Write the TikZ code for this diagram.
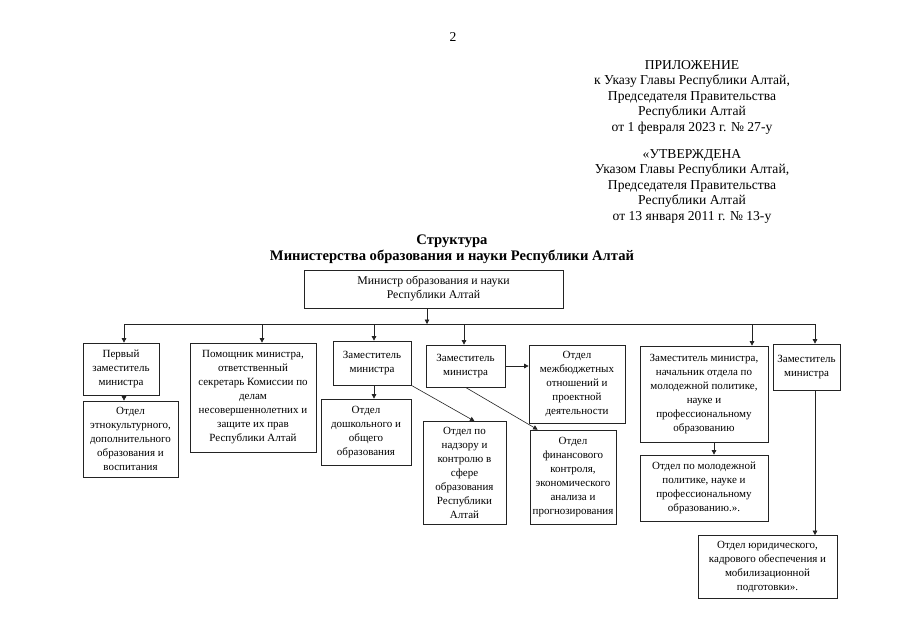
\documentclass[tikz,border=0pt]{standalone}
\usepackage{fontspec}
\setmainfont{Liberation Serif}
\usetikzlibrary{arrows.meta, positioning, calc}
\definecolor{lineGray}{RGB}{35,35,35}
\tikzset{
  unitbox/.style={draw=lineGray, line width=0.7pt, align=center, inner sep=1pt,
    font=\fontsize{11}{14}\selectfont},
  link/.style={-{Triangle[length=4.5pt,width=4.5pt]}, line width=0.6pt, draw=lineGray},
  headtext/.style={align=center, font=\fontsize{13.6}{15.5}\selectfont},
}

\begin{document}
\begin{tikzpicture}[x=1pt, y=-1pt]
\useasboundingbox[fill=white] (0,0) rectangle (905,640);

% header
\node[headtext] (pnum) at (453,37) {2};
\node[headtext] (appx) at (692,97) {ПРИЛОЖЕНИЕ\\к Указу Главы Республики Алтай,\\Председателя Правительства\\Республики Алтай\\от 1 февраля 2023 г. № 27-у};
\node[headtext] (apprv) at (692,186) {«УТВЕРЖДЕНА\\Указом Главы Республики Алтай,\\Председателя Правительства\\Республики Алтай\\от 13 января 2011 г. № 13-у};
\node[align=center, font=\fontsize{14.6}{16.5}\selectfont\bfseries] (title) at (452,249) {Структура\\Министерства образования и науки Республики Алтай};

% units
\node[unitbox, minimum width=259pt, minimum height=38pt, font=\fontsize{11.8}{14}\selectfont] (mnst) at (433.5,289) {Министр образования и науки\\Республики Алтай};
\node[unitbox, minimum width=76pt, minimum height=52pt] (dep1) at (121,369) {Первый\\заместитель\\министра};
\node[unitbox, minimum width=95pt, minimum height=76pt] (otd1) at (130.5,439) {Отдел\\этнокультурного,\\дополнительного\\образования и\\воспитания};
\node[unitbox, minimum width=126pt, minimum height=109pt] (pom) at (253,397.5) {Помощник министра,\\ответственный\\секретарь Комиссии по\\делам\\несовершеннолетних и\\защите их прав\\Республики Алтай};
\node[unitbox, minimum width=78pt, minimum height=44pt] (dep2) at (372,363) {Заместитель\\министра};
\node[unitbox, minimum width=90pt, minimum height=66pt] (otd2) at (366,432) {Отдел\\дошкольного и\\общего\\образования};
\node[unitbox, minimum width=79pt, minimum height=42pt] (dep3) at (465.5,366) {Заместитель\\министра};
\node[unitbox, minimum width=96pt, minimum height=78pt] (otd3) at (577,384) {Отдел\\межбюджетных\\отношений и\\проектной\\деятельности};
\node[unitbox, minimum width=83pt, minimum height=103pt] (otd4) at (464.5,473) {Отдел по\\надзору и\\контролю в\\сфере\\образования\\Республики\\Алтай};
\node[unitbox, minimum width=86pt, minimum height=94pt] (otd5) at (573,477) {Отдел\\финансового\\контроля,\\экономического\\анализа и\\прогнозирования};
\node[unitbox, minimum width=128pt, minimum height=96pt] (dep4) at (704,394) {Заместитель министра,\\начальник отдела по\\молодежной политике,\\науке и\\профессиональному\\образованию};
\node[unitbox, minimum width=128pt, minimum height=66pt] (otd6) at (704,488) {Отдел по молодежной\\политике, науке и\\профессиональному\\образованию.».};
\node[unitbox, minimum width=67pt, minimum height=46pt] (dep5) at (806.5,367) {Заместитель\\министра};
\node[unitbox, minimum width=139pt, minimum height=63pt] (otd7) at (767.5,567) {Отдел юридического,\\кадрового обеспечения и\\мобилизационной\\подготовки».};

% connectors
\coordinate (busL) at (124,324);
\coordinate (busR) at (815,324);
\coordinate (busM) at (427,324);
\draw[line width=0.6pt, draw=lineGray] (busL) -- (busR);
\draw[link] (busM |- mnst.south) -- (busM);
\foreach \xpos/\unit in {124/dep1, 262/pom, 374/dep2, 464/dep3, 752/dep4, 815/dep5} {
  \coordinate (bus-\unit) at (\xpos,324);
  \draw[link] (bus-\unit) -- (bus-\unit |- \unit.north);
}
\draw[link] (bus-dep1 |- dep1.south) -- (bus-dep1 |- otd1.north);
\draw[link] (bus-dep2 |- dep2.south) -- (bus-dep2 |- otd2.north);
\draw[link] (dep3.east) -- (otd3.west |- dep3.east);
\draw[link] (dep2.south east) -- ($(otd4.north)+(10,0)$);
\draw[link] (dep3.south) -- ($(otd5.north west)+(8,0)$);
\draw[link] ($(dep4.south)+(10,0)$) -- ($(otd6.north)+(10,0)$);
\draw[link] (bus-dep5 |- dep5.south) -- (bus-dep5 |- otd7.north);
\end{tikzpicture}
\end{document}
